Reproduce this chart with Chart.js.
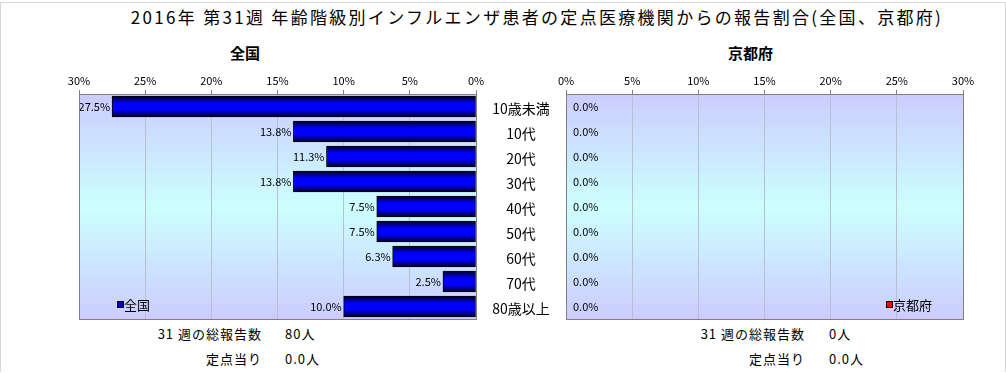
<!DOCTYPE html>
<html>
<head>
<meta charset="utf-8">
<script src="https://cdn.jsdelivr.net/npm/chart.js@4.4.1/dist/chart.umd.min.js"></script>
<style>
  body { margin: 0; background: #fff; font-family: "Noto Sans CJK JP", sans-serif; }
  #wrap { position: relative; width: 1006px; height: 373px; overflow: hidden; }
  #frame { position: absolute; left: 0; top: 2px; width: 1004px; height: 369px; border: 1px solid #d8d8d8; border-bottom: none; }
  .txt { position: absolute; white-space: nowrap; color: #000; }
  .foot { font-size: 13px; letter-spacing: 1px; }
  #title { left: 34px; width: 1006px; top: 4px; text-align: center; font-size: 17px; letter-spacing: 2.3px; }
  canvas { position: absolute; }
</style>
</head>
<body>
<div id="wrap">
  <div id="frame"></div>
  <div id="title" class="txt">2016年 第31週 年齢階級別インフルエンザ患者の定点医療機関からの報告割合(全国、京都府)</div>
  <div class="txt" style="left:230px;top:42px;font-size:15px;font-weight:bold;">全国</div>
  <div class="txt" style="left:728px;top:42px;font-size:15px;font-weight:bold;">京都府</div>
  <div class="txt foot" style="left:120px;top:324px;width:142px;text-align:right;">31 週の総報告数</div>
  <div class="txt foot" style="left:285px;top:324px;">80人</div>
  <div class="txt foot" style="left:120px;top:349px;width:142px;text-align:right;">定点当り</div>
  <div class="txt foot" style="left:285px;top:349px;">0.0人</div>
  <div class="txt foot" style="left:663px;top:324px;width:142px;text-align:right;">31 週の総報告数</div>
  <div class="txt foot" style="left:829px;top:324px;">0人</div>
  <div class="txt foot" style="left:663px;top:349px;width:142px;text-align:right;">定点当り</div>
  <div class="txt foot" style="left:829px;top:349px;">0.0人</div>
  <canvas id="leftChart" style="left:0;top:66px;" width="570" height="256"></canvas>
  <canvas id="rightChart" style="left:540px;top:66px;" width="466" height="256"></canvas>
</div>
<script>
// 年齢階級
const categories = ['10歳未満', '10代', '20代', '30代', '40代', '50代', '60代', '70代', '80歳以上'];
// 報告割合(%)
const zenkokuValues = [27.5, 13.8, 11.3, 13.8, 7.5, 7.5, 6.3, 2.5, 10.0];
const kyotoValues = [0, 0, 0, 0, 0, 0, 0, 0, 0];
// 軸
const axisMin = 0;
const axisMax = 30;
const axisStep = 5;

const FONT = '"Noto Sans CJK JP", sans-serif';
const BAR_H = 21;

// 背景グラデーションと枠
const plotBackground = {
  id: 'plotBackground',
  beforeDraw(chart) {
    const { ctx, chartArea: a } = chart;
    const g = ctx.createLinearGradient(0, a.top, 0, a.bottom);
    g.addColorStop(0, '#ccccff');
    g.addColorStop(0.5, '#ccffff');
    g.addColorStop(1, '#ccccff');
    ctx.save();
    ctx.fillStyle = g;
    ctx.fillRect(a.left, a.top, a.right - a.left, a.bottom - a.top);
    ctx.restore();
  },
  afterDraw(chart) {
    const { ctx, chartArea: a } = chart;
    ctx.save();
    ctx.strokeStyle = '#808080';
    ctx.lineWidth = 1;
    ctx.strokeRect(Math.round(a.left) + 0.5, Math.round(a.top) + 0.5, Math.round(a.right - a.left), Math.round(a.bottom - a.top));
    ctx.restore();
  }
};

// 値ラベル・カテゴリ名・凡例
function labelsPlugin(opts) {
  return {
    id: 'valueLabels',
    afterDatasetsDraw(chart) {
      const { ctx, chartArea: a } = chart;
      const ys = chart.scales.y;
      const meta = chart.getDatasetMeta(0);
      ctx.save();
      ctx.font = '11px ' + FONT;
      ctx.fillStyle = '#000';
      ctx.textBaseline = 'middle';
      meta.data.forEach((bar, i) => {
        const v = chart.data.datasets[0].data[i];
        const txt = v.toFixed(1) + '%';
        if (opts.side === 'left') {
          ctx.textAlign = 'right';
          ctx.fillText(txt, bar.x - 2, bar.y);
        } else {
          ctx.textAlign = 'left';
          ctx.fillText(txt, a.left + 7, bar.y);
        }
      });
      // カテゴリ名(全国側の右)
      if (opts.side === 'left') {
        ctx.font = '14px ' + FONT;
        ctx.textAlign = 'center';
        chart.data.labels.forEach((lab, i) => {
          ctx.fillText(lab, a.right + 45, ys.getPixelForValue(i) + 2);
        });
      }
      // 凡例
      const ly = a.bottom - 14;
      const lx = opts.legendX;
      ctx.fillStyle = opts.legendColor;
      ctx.fillRect(lx, ly - 3, 6, 6);
      ctx.strokeStyle = '#000';
      ctx.strokeRect(lx + 0.5, ly - 3.5, 6, 6);
      ctx.fillStyle = '#000';
      ctx.font = '13px ' + FONT;
      ctx.textAlign = 'left';
      ctx.fillText(opts.legendText, lx + 7, ly);
      ctx.restore();
    }
  };
}

function barGradient(context) {
  const chart = context.chart;
  const ys = chart.scales && chart.scales.y;
  if (!chart.chartArea || !ys) return '#0000ff';
  const y = ys.getPixelForValue(context.dataIndex);
  if (!isFinite(y)) return '#0000ff';
  const g = chart.ctx.createLinearGradient(0, y - BAR_H / 2, 0, y + BAR_H / 2);
  g.addColorStop(0, '#000020');
  g.addColorStop(0.35, '#0000ff');
  g.addColorStop(0.65, '#0000ff');
  g.addColorStop(1, '#000020');
  return g;
}

function makeChart(id, values, opts) {
  const ctx = document.getElementById(id).getContext('2d');
  return new Chart(ctx, {
    type: 'bar',
    data: {
      labels: categories,
      datasets: [{
        data: values,
        backgroundColor: barGradient,
        borderColor: '#000',
        borderWidth: 1,
        borderSkipped: false,
        barThickness: BAR_H
      }]
    },
    options: {
      indexAxis: 'y',
      responsive: false,
      animation: false,
      layout: { padding: opts.padding },
      plugins: { legend: { display: false }, tooltip: { enabled: false } },
      scales: {
        x: {
          position: 'top',
          reverse: opts.reverse,
          min: axisMin,
          max: axisMax,
          afterFit(scale) { scale.height = 28; },
          ticks: {
            stepSize: axisStep,
            padding: 3,
            color: '#000',
            font: { size: 11, family: FONT },
            callback: v => v + '%'
          },
          grid: { color: '#b8c0d0', tickLength: 4, tickColor: '#808080' },
          border: { display: false }
        },
        y: {
          display: false
        }
      }
    },
    plugins: [plotBackground, labelsPlugin(opts)]
  });
}

makeChart('leftChart', zenkokuValues, {
  padding: { left: 79, right: 94, top: 0, bottom: 3 },
  reverse: true,
  side: 'left',
  legendText: '全国',
  legendColor: '#0000cc',
  legendX: 117
});

makeChart('rightChart', kyotoValues, {
  padding: { left: 26, right: 43, top: 0, bottom: 3 },
  reverse: false,
  side: 'right',
  legendText: '京都府',
  legendColor: '#ff0000',
  legendX: 346
});
</script>
</body>
</html>
